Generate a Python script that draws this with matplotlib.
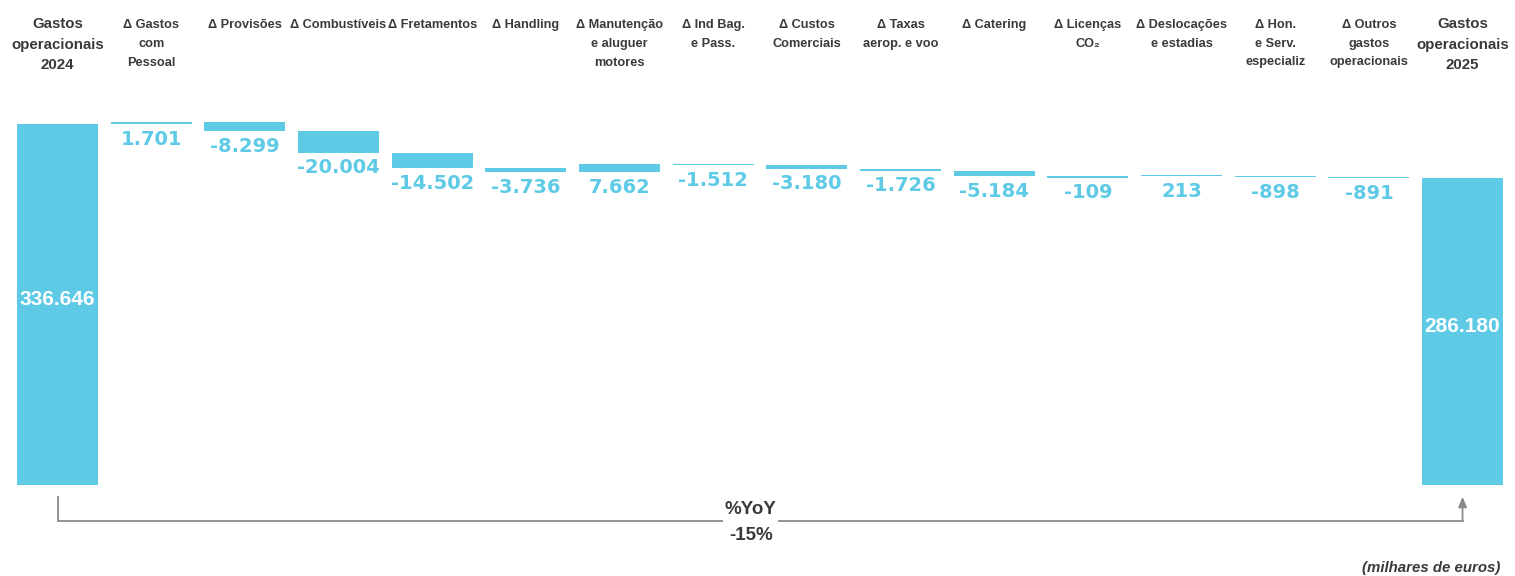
import matplotlib
matplotlib.use("Agg")
import matplotlib.pyplot as plt
import matplotlib.transforms as mtransforms

# values in thousands of euros
start_label = "Gastos\noperacionais\n2024"
end_label = "Gastos\noperacionais\n2025"
start_value = 336646
end_value = 286180

delta_labels = [
    "Δ Gastos\ncom\nPessoal",
    "Δ Provisões",
    "Δ Combustíveis",
    "Δ Fretamentos",
    "Δ Handling",
    "Δ Manutenção\ne aluguer\nmotores",
    "Δ Ind Bag.\ne Pass.",
    "Δ Custos\nComerciais",
    "Δ Taxas\naerop. e voo",
    "Δ Catering",
    "Δ Licenças\nCO₂",
    "Δ Deslocações\ne estadias",
    "Δ Hon.\ne Serv.\nespecializ",
    "Δ Outros\ngastos\noperacionais",
]
delta_values = [1701, -8299, -20004, -14502, -3736, 7662, -1512, -3180,
                -1726, -5184, -109, 213, -898, -891]

yoy_text = "%YoY\n-15%"
unit_text = "(milhares de euros)"

BAR = "#5ECAE5"
DARK = "#3a3a3a"
FONT = ["Liberation Sans", "DejaVu Sans"]


def fmt(v):
    return f"{v:,}".replace(",", ".")


fig = plt.figure(figsize=(15.15, 5.76), dpi=100)
ax = fig.add_axes([0, 0, 1, 1])
ax.set_xlim(-0.614, 15.56)
ax.set_ylim(-84900, 452300)
ax.axis("off")

n = len(delta_values)
width = 0.865

# total bars
for x, v in [(0, start_value), (n + 1, end_value)]:
    ax.bar(x, v, width=width, color=BAR)
    ax.text(x, v / 2 + 4500, fmt(v), ha="center", va="center", color="white",
            fontsize=15, fontweight="bold", family=FONT)

# delta bars
running = start_value
for i, d in enumerate(delta_values):
    x = i + 1
    h = d if abs(d) > 1200 else (1200 if d >= 0 else -1200)
    ax.bar(x, h, bottom=running, width=width, color=BAR)
    low = min(running, running + h)
    ax.annotate(fmt(d), (x, low), xytext=(0, -4), textcoords="offset points",
                ha="center", va="top", color=BAR, fontsize=14, fontweight="bold")
    running += d

# category headers
trans = mtransforms.blended_transform_factory(ax.transData, ax.transAxes)
all_labels = [start_label] + delta_labels + [end_label]
for x, lab in enumerate(all_labels):
    big = x in (0, n + 1)
    ax.text(x, 1 - (17 if big else 19) / 576, lab, transform=trans, ha="center",
            va="top", fontsize=10.8 if big else 9.2, fontweight="bold", color=DARK,
            family=FONT, linespacing=1.6 if big else 1.75)

# YoY bracket
y_top = -11000
y_line = -33600
ax.plot([0, 0, n + 1], [y_top, y_line, y_line], color="#8a8a8a", lw=1.3,
        solid_joinstyle="miter")
ax.annotate("", xy=(n + 1, y_top), xytext=(n + 1, y_line),
            arrowprops=dict(arrowstyle="-|>,head_width=0.25,head_length=0.6",
                            color="#8a8a8a", lw=1.3, shrinkA=0, shrinkB=0))
ax.text(7.4, y_line - 1500, yoy_text, ha="center", va="center", fontsize=13.5,
        color=DARK, family=FONT, fontweight="bold", linespacing=1.75,
        bbox=dict(facecolor="white", edgecolor="none", pad=1))

fig.text(1500 / 1515, 1 - 568 / 576, unit_text, ha="right", va="center",
         fontsize=10.8, style="italic", fontweight="bold", color=DARK, family=FONT)

fig.savefig("out.png", dpi=100)
